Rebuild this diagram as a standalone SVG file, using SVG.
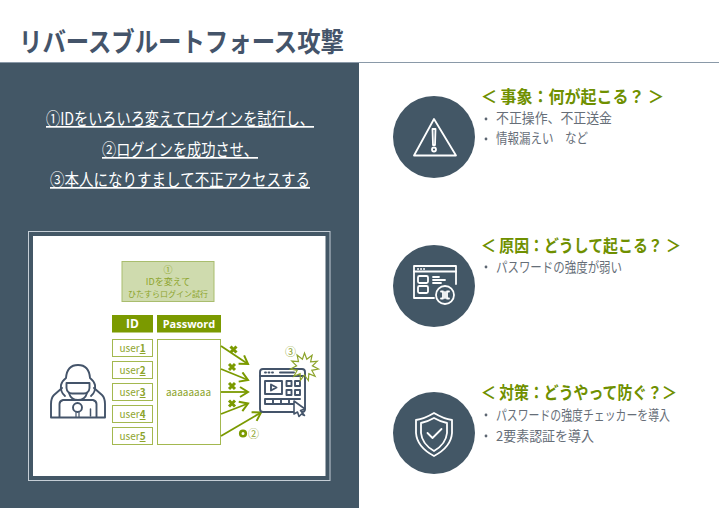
<svg xmlns="http://www.w3.org/2000/svg" width="719" height="508" viewBox="0 0 719 508">
<style>
text{font-family:"Noto Sans CJK JP","Noto Sans",sans-serif}
.title{font-size:27px;font-weight:700;fill:#44546a}
.lead{font-size:17px;fill:#fff;text-decoration:underline}
.head{font-size:17px;font-weight:700;fill:#6f9000}
.item{font-size:13.500px;fill:#666e78}
.dot{fill:#5d6672}
.g{fill:#8da42c;font-size:10px}
.n{fill:#8da42c;font-size:9px}
.cell{fill:#fff;stroke:#a3b84f;stroke-width:1}
.hd{fill:#7b9a00}
.hdt{fill:#fff;font-size:12px;font-weight:700;font-family:"Open Sans","Noto Sans",sans-serif}
.circ{fill:#435766}
.ic{fill:none;stroke:#fff;stroke-width:1.800;stroke-linejoin:round;stroke-linecap:round}
.dk{fill:none;stroke:#44546a;stroke-width:1.900;stroke-linejoin:round;stroke-linecap:round}
.ar{fill:none;stroke:#7b9a00;stroke-width:1.800;marker-end:url(#ah)}
.x{fill:none;stroke:#7b9a00;stroke-width:3}
</style>
<defs>
<marker id="ah" markerUnits="userSpaceOnUse" markerWidth="12" markerHeight="12" refX="10" refY="6" orient="auto"><path d="M2 1L10 6L2 11" fill="none" stroke="#7b9a00" stroke-width="2"/></marker>
</defs>
<rect width="719" height="508" fill="#fff"/>
<g id="header">
<text class="title" x="19" y="52" textLength="325" lengthAdjust="spacingAndGlyphs">リバースブルートフォース攻撃</text>
<line x1="0" y1="62.500" x2="719" y2="62.500" stroke="#8a99a8" stroke-width="1"/>
</g>
<rect id="left-panel" x="0" y="63" width="359" height="445" fill="#435766"/>
<g id="lead-text" text-anchor="middle">
<text class="lead" x="180" y="125" textLength="268" lengthAdjust="spacingAndGlyphs">①IDをいろいろ変えてログインを試行し、</text>
<text class="lead" x="180" y="156" textLength="156" lengthAdjust="spacingAndGlyphs">②ログインを成功させ、</text>
<text class="lead" x="180" y="186" textLength="260" lengthAdjust="spacingAndGlyphs">③本人になりすまして不正アクセスする</text>
</g>
<g id="figure-frame">
<rect x="28.500" y="231.500" width="301.500" height="249" fill="none" stroke="#c5ced6" stroke-width="1"/>
<rect x="33" y="236" width="292.500" height="240" fill="#fff"/>
</g>
<g id="note-1">
<rect x="122" y="261.500" width="92" height="40" fill="#cfdbae" stroke="#a9bd6e" stroke-width="1"/>
<text class="n" text-anchor="middle"><tspan x="168" y="273">①</tspan><tspan x="168" y="285">IDを変えて</tspan><tspan x="168" y="297" style="font-size:8px">ひたすらログイン試行</tspan></text>
</g>
<g id="col-id">
<rect class="hd" x="112" y="315" width="41" height="17.500"/>
<text class="hdt" x="132.500" y="328" text-anchor="middle">ID</text>
</g>
<g id="col-password">
<rect class="hd" x="157" y="315" width="64" height="17.500"/>
<text class="hdt" x="189" y="328" text-anchor="middle" style="font-size:11px">Password</text>
</g>
<g id="user1"><rect class="cell" x="112.500" y="339.500" width="40" height="17"/><text class="g" x="132.500" y="352" text-anchor="middle">user<tspan font-weight="700" text-decoration="underline">1</tspan></text></g>
<g id="user2"><rect class="cell" x="112.500" y="361.500" width="40" height="17"/><text class="g" x="132.500" y="374" text-anchor="middle">user<tspan font-weight="700" text-decoration="underline">2</tspan></text></g>
<g id="user3"><rect class="cell" x="112.500" y="383.500" width="40" height="17"/><text class="g" x="132.500" y="396" text-anchor="middle">user<tspan font-weight="700" text-decoration="underline">3</tspan></text></g>
<g id="user4"><rect class="cell" x="112.500" y="405.500" width="40" height="17"/><text class="g" x="132.500" y="418" text-anchor="middle">user<tspan font-weight="700" text-decoration="underline">4</tspan></text></g>
<g id="user5"><rect class="cell" x="112.500" y="427.500" width="40" height="17"/><text class="g" x="132.500" y="440" text-anchor="middle">user<tspan font-weight="700" text-decoration="underline">5</tspan></text></g>
<g id="password-cell"><rect class="cell" x="157.500" y="339.500" width="63" height="105"/><text class="g" x="188.500" y="396" text-anchor="middle">aaaaaaaa</text></g>
<g id="connectors">
<path class="ar" d="M221 346L248 364"/>
<path class="ar" d="M221 369L248 380"/>
<path class="ar" d="M221 392L248 392"/>
<path class="ar" d="M221 414L248 403.500"/>
<path class="ar" d="M221 436L261 412.500"/>
<path class="x" d="M230.500 346.500l6 6m0-6l-6 6M229 364l6 6m0-6l-6 6M229 383l6 6m0-6l-6 6M229 400.500l6 6m0-6l-6 6"/>
<circle cx="243" cy="433.500" r="2.800" fill="none" stroke="#7b9a00" stroke-width="2.600"/>
</g>
<text class="g" x="248" y="437.500" style="font-size:11px">②</text>
<g id="hacker" class="dk">
<path d="M62 388L54 395Q51 398 51 404V417.500H105V404Q105 398 102 395L94 388"/>
<path d="M59.500 417V404Q59.500 401 63 400H93Q96.500 401 96.500 404V417"/>
<path d="M65 396Q60 392 61 385Q62 381 66 378Q67 365 78 365Q89 365 90 378Q94 381 95 385Q96 392 91 396"/>
<path d="M66.500 383H89.500V388Q89 393 84 393.500H72Q67 393 66.500 388Z"/>
<path d="M69 393Q71 400 78 400Q85 400 87 393"/>
<circle cx="77.500" cy="407.500" r="4.500"/>
<path d="M76 417.500V412.500M79 417.500V412.500" stroke-width="1.200"/>
<path d="M90.500 409V416" stroke-width="1.500"/>
</g>
<g id="browser">
<rect class="dk" x="260" y="369" width="45" height="43" rx="3"/>
<path class="dk" d="M260 376H305M265 372.500h1M268.500 372.500h1M272 372.500h1M280 372.500h14"/>
<rect class="dk" x="265" y="381" width="17" height="13"/>
<path class="dk" d="M271 384.500l5.500 3-5.500 3Z"/>
<rect class="dk" x="286.500" y="381" width="5" height="5"/><rect class="dk" x="295" y="381" width="5" height="5"/>
<rect class="dk" x="286.500" y="390" width="5" height="5"/><rect class="dk" x="295" y="390" width="5" height="5"/>
<path class="dk" d="M265 399H300M265 399v5h32M273 399v5M281 399v5M289 399v5"/>
<path d="M294 401L305 409L300.500 410.500L304.500 415.500L301.500 414L299 416.500L297.500 412L294 414Z" fill="#fff" stroke="#44546a" stroke-width="1.600" stroke-linejoin="round"/>
</g>
<g id="burst">
<path d="M304.500 353L306.800 359.300L312.100 355.300L310.600 361.800L317.300 361.300L312.400 365.900L318.400 369L311.800 370.300L315.100 376.200L308.800 373.700L308.400 380.500L304.400 375L300.400 380.400L300.100 373.700L293.900 376.200L297.200 370.300L290.600 369L296.600 365.800L291.800 361.100L298.500 361.700L297.100 355.100L302.400 359.300Z" fill="none" stroke="#8da42c" stroke-width="1.200"/>
<text class="g" x="285" y="356" style="font-size:11px">③</text>
</g>
<g id="node-event">
<circle class="circ" cx="434" cy="137" r="41"/>
<path class="ic" d="M434 119L456 155.500H414Z"/>
<path class="ic" d="M432.500 129H435.500L435 145H433Z" stroke-width="1.200"/>
<circle class="ic" cx="434" cy="149.500" r="2" stroke-width="1.200"/>
<text class="head" x="481" y="103" textLength="183" lengthAdjust="spacingAndGlyphs">＜ 事象：何が起こる？ ＞</text>
<circle class="dot" cx="486" cy="119" r="1.400"/>
<text class="item" x="496" y="123" textLength="116" lengthAdjust="spacingAndGlyphs">不正操作、不正送金</text>
<circle class="dot" cx="486" cy="139" r="1.400"/>
<text class="item" x="496" y="143" textLength="92" lengthAdjust="spacingAndGlyphs">情報漏えい　など</text>
</g>
<g id="node-cause">
<circle class="circ" cx="434" cy="286" r="41"/>
<path class="ic" d="M434 298H414V266H456V284"/>
<path class="ic" d="M414 271.500H456M418 269h.1M421 269h.1M424 269h.1"/>
<rect class="ic" x="418" y="276" width="10" height="7" rx="1.500"/>
<rect class="ic" x="418" y="286" width="10" height="7" rx="1.500"/>
<path class="ic" d="M433 277h6M433 280h12M433 283h8"/>
<circle cx="445" cy="295" r="9" fill="#435766" stroke="#fff" stroke-width="1.800"/>
<path class="ic" d="M441 291.500h2v7h-2M449 291.500h-2v7h2M445 292v6"/>
<text class="head" x="481" y="252" textLength="200" lengthAdjust="spacingAndGlyphs">＜ 原因：どうして起こる？ ＞</text>
<circle class="dot" cx="486" cy="267" r="1.400"/>
<text class="item" x="496" y="272" textLength="126" lengthAdjust="spacingAndGlyphs">パスワードの強度が弱い</text>
</g>
<g id="node-fix">
<circle class="circ" cx="434" cy="433" r="41"/>
<path class="ic" d="M434 413Q424 419 416 420V433Q417 447 434 456Q451 447 452 433V420Q444 419 434 413Z"/>
<path class="ic" d="M434 418Q427 422 421 423V433Q422 444 434 451Q446 444 447 433V423Q441 422 434 418Z" stroke-width="1.200"/>
<path class="ic" d="M427.500 433L432.500 438L441.500 429" stroke-width="2"/>
<text class="head" x="481" y="399" textLength="196" lengthAdjust="spacingAndGlyphs">＜ 対策：どうやって防ぐ？＞</text>
<circle class="dot" cx="486" cy="415" r="1.400"/>
<text class="item" x="496" y="420" textLength="174" lengthAdjust="spacingAndGlyphs">パスワードの強度チェッカーを導入</text>
<circle class="dot" cx="486" cy="436" r="1.400"/>
<text class="item" x="496" y="441" textLength="98" lengthAdjust="spacingAndGlyphs">2要素認証を導入</text>
</g>
</svg>
